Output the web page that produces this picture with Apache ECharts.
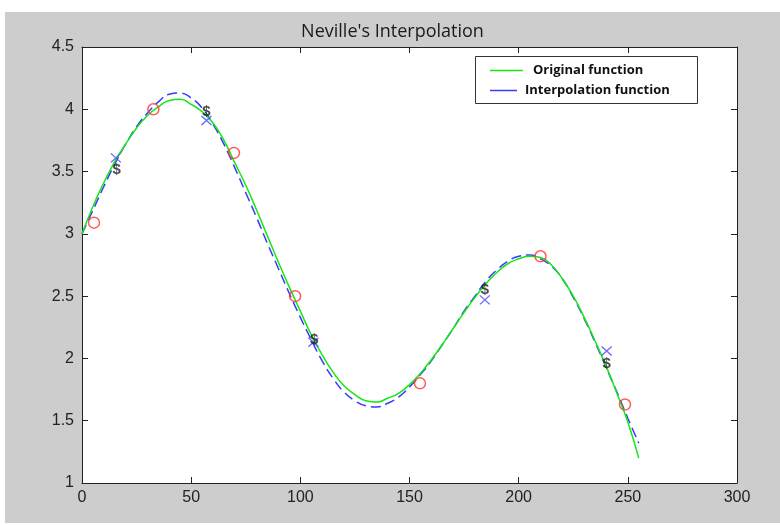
<!DOCTYPE html>
<html>
<head>
<meta charset="utf-8">
<script src="https://cdn.jsdelivr.net/npm/echarts@6/dist/echarts.min.js"></script>
<style>
  html, body { margin: 0; padding: 0; background: #fff; }
  #chart { position: absolute; left: 5px; top: 12px; width: 775px; height: 511px; }
</style>
</head>
<body>
<div id="chart"></div>
<script>
// sample positions along the curves
var xGrid = [0, 5, 10, 15, 20, 25, 30, 35, 40, 45, 50, 55, 60, 65, 70, 75, 80, 85, 90, 95,
	100, 105, 110, 115, 120, 125, 130, 135, 140, 145, 150, 155, 160, 165, 170, 175, 180, 185,
	190, 195, 200, 205, 210, 215, 220, 225, 230, 235, 240, 245, 250, 255];
var originalY = [3.00, 3.22, 3.41, 3.58, 3.72, 3.85, 3.95, 4.02, 4.07, 4.08, 4.04, 3.98, 3.89, 3.75,
	3.57, 3.39, 3.19, 2.98, 2.77, 2.57, 2.38, 2.19, 2.03, 1.89, 1.78, 1.71, 1.66, 1.65, 1.68, 1.72,
	1.79, 1.88, 1.99, 2.11, 2.24, 2.37, 2.49, 2.60, 2.69, 2.76, 2.80, 2.82, 2.81, 2.75, 2.64, 2.50,
	2.33, 2.14, 1.94, 1.72, 1.49, 1.20];
var interpY = [3.00, 3.19, 3.38, 3.56, 3.72, 3.86, 3.97, 4.06, 4.12, 4.13, 4.09, 4.01, 3.88, 3.72,
	3.53, 3.33, 3.13, 2.92, 2.72, 2.52, 2.33, 2.15, 1.98, 1.84, 1.73, 1.66, 1.62, 1.61, 1.64, 1.69,
	1.77, 1.87, 1.98, 2.11, 2.24, 2.38, 2.50, 2.62, 2.71, 2.78, 2.82, 2.83, 2.80, 2.74, 2.64, 2.49,
	2.32, 2.13, 1.93, 1.73, 1.52, 1.32];

// red circles
var circleX = [5.5, 32.7, 69.6, 97.6, 154.8, 210, 248.7];
var circleY = [3.09, 4.00, 3.65, 2.50, 1.80, 2.82, 1.63];
// blue crosses
var crossX = [15.5, 57, 106, 184.5, 240.3];
var crossY = [3.61, 3.91, 2.13, 2.47, 2.06];
// black "$" marks
var dollarX = [15.9, 57, 106.3, 184.5, 240.3];
var dollarY = [3.51, 3.98, 2.15, 2.55, 1.96];

var xTicks = [0, 50, 100, 150, 200, 250, 300];
var yTicks = [1, 1.5, 2, 2.5, 3, 3.5, 4, 4.5];

function pairs(xs, ys) {
	return xs.map(function (x, i) { return [x, ys[i]]; });
}

var axisColor = '#222';
var labelFont = { fontFamily: 'Liberation Sans, Arial, sans-serif', fontSize: 16, color: '#222' };

function xAx(pos, showLabel) {
	return {
		type: 'value', position: pos, min: xTicks[0], max: xTicks[xTicks.length - 1], interval: 50,
		axisLine: { show: true, onZero: false, lineStyle: { color: axisColor, width: 1 } },
		axisTick: { show: true, inside: true, length: 6, lineStyle: { color: axisColor } },
		axisLabel: Object.assign({ show: showLabel, margin: 7 }, labelFont),
		splitLine: { show: false }
	};
}
function yAx(pos, showLabel) {
	return {
		type: 'value', position: pos, min: yTicks[0], max: yTicks[yTicks.length - 1], interval: 0.5,
		axisLine: { show: true, onZero: false, lineStyle: { color: axisColor, width: 1 } },
		axisTick: { show: true, inside: true, length: 6, lineStyle: { color: axisColor } },
		axisLabel: Object.assign({ show: showLabel, margin: 8 }, labelFont),
		splitLine: { show: false }
	};
}

var legendText = { fontFamily: 'Open Sans, sans-serif', fontSize: 13, fontWeight: 'bold', color: '#111' };

var chart = echarts.init(document.getElementById('chart'));
var option = {
	backgroundColor: '#cdcdcd',
	animation: false,
	title: {
		text: "Neville's Interpolation",
		left: 'center',
		top: 11,
		padding: 0,
		textStyle: { fontFamily: 'Open Sans, sans-serif', fontSize: 18, fontWeight: 'normal', color: '#1a1a1a' }
	},
	grid: {
		left: 77, right: 43, top: 35, bottom: 40,
		show: true, backgroundColor: '#fff', borderWidth: 0
	},
	graphic: [{
		type: 'rect', left: 470, top: 44, z: 90,
		shape: { width: 222, height: 47 },
		style: { fill: '#fff', stroke: '#333', lineWidth: 1 }
	}],
	legend: [{
		data: [{ name: 'Original function', icon: 'rect' }],
		left: 480, top: 47, z: 100,
		itemWidth: 33, itemHeight: 1.5,
		textStyle: Object.assign({ padding: [0, 0, 0, 5] }, legendText)
	}, {
		data: [{ name: 'Interpolation function', icon: 'rect' }],
		left: 480, top: 67, z: 100,
		itemWidth: 27, itemHeight: 1.5,
		textStyle: Object.assign({ padding: [0, 0, 0, 3] }, legendText)
	}],
	xAxis: [xAx('bottom', true), xAx('top', false)],
	yAxis: [yAx('left', true), yAx('right', false)],
	series: [
		{
			name: 'Interpolation function',
			type: 'line', smooth: true, showSymbol: false,
			data: pairs(xGrid, interpY),
			itemStyle: { color: '#3a3aff' },
			lineStyle: { color: '#3a3aff', width: 1.5, type: [10, 5] },
			z: 3
		},
		{
			name: 'Original function',
			type: 'line', smooth: true, showSymbol: false,
			data: pairs(xGrid, originalY),
			itemStyle: { color: '#14e814' },
			lineStyle: { color: '#14e814', width: 1.5 },
			z: 4
		},
		{
			name: 'nodes',
			type: 'scatter',
			data: pairs(circleX, circleY),
			symbol: 'circle', symbolSize: 11,
			itemStyle: { color: 'rgba(0,0,0,0)', borderColor: '#ff3333', borderWidth: 1.5 },
			z: 5
		},
		{
			name: 'crosses',
			type: 'scatter',
			data: pairs(crossX, crossY),
			symbol: 'path://M0,0L10,10M10,0L0,10', symbolSize: [10, 9],
			itemStyle: { color: 'rgba(0,0,0,0)', borderColor: '#4646ff', borderWidth: 1.3 },
			z: 5
		},
		{
			name: 'dollars',
			type: 'scatter',
			data: pairs(dollarX, dollarY),
			symbol: 'circle', symbolSize: 1,
			itemStyle: { color: 'rgba(0,0,0,0)' },
			label: {
				show: true, position: 'inside', formatter: '$',
				fontFamily: 'Liberation Sans, sans-serif', fontSize: 15, fontWeight: 'bold', color: '#1a1a1a'
			},
			z: 6
		}
	]
};
chart.setOption(option);
window.addEventListener('resize', function () {
	chart.resize();
});
</script>
</body>
</html>
